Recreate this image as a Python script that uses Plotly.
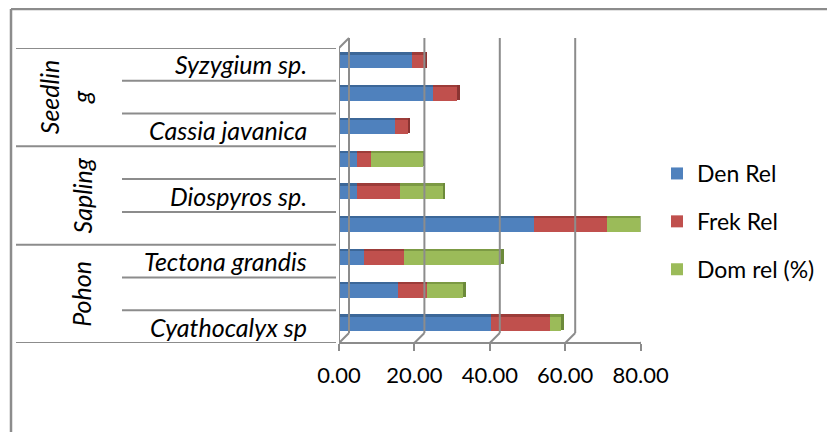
import plotly.graph_objects as go

# ---------------- data ----------------
group_names = ["Pohon", "Sapling", "Seedlin<br>g"]
group_size = 3
species = ["Cyathocalyx sp", "", "Tectona grandis", "", "Diospyros sp.", "",
           "Cassia javanica", "", "Syzygium sp."]
den_rel = [40.2, 15.6, 6.6, 51.7, 4.7, 4.7, 14.9, 24.8, 19.3]
frek_rel = [15.7, 7.8, 10.6, 19.3, 11.5, 3.8, 3.3, 6.5, 3.3]
dom_rel = [3.1, 9.5, 25.8, 8.9, 11.3, 13.7, 0.0, 0.0, 0.0]
series_names = ["Den Rel", "Frek Rel", "Dom rel (%)"]
tick_values = [0, 20, 40, 60, 80]
tick_labels = ["0.00", "20.00", "40.00", "60.00", "80.00"]

# ---------------- styling ----------------
W, H = 835, 432
OX, OY = 8, 8  # page body offset
FONT = "Lato"
colors = ["#4F81BD", "#C0504D", "#9BBB59"]
top_colors = ["#3C6798", "#9C3C39", "#7C9A44"]
side_colors = ["#35598A", "#8A3432", "#6C8A3A"]
LINE = "#8C8C8C"
DEPTH = 10  # px offset of back wall


def X(px):
    return (px - OX) / W


def Y(py):
    return 1 - (py - OY) / H


positions = list(range(len(species)))
series = [den_rel, frek_rel, dom_rel]

fig = go.Figure()
base = [0.0] * len(species)
for k, (name, vals) in enumerate(zip(series_names, series)):
    fig.add_trace(go.Bar(
        orientation="h", y=positions, x=vals, base=list(base),
        width=0.42, offset=-0.12, name=name, legendgroup=name,
        marker=dict(color=colors[k], line=dict(width=0)),
        hoverinfo="x+name", xaxis="x", yaxis="y"))
    fig.add_trace(go.Bar(
        orientation="h", y=positions, x=vals, base=list(base),
        width=0.07, offset=0.30, name=name, legendgroup=name, showlegend=False,
        marker=dict(color=top_colors[k], line=dict(width=0)),
        hoverinfo="skip", xaxis="x", yaxis="y"))
    base = [b + v for b, v in zip(base, vals)]

# right end faces (darker side of the last visible segment)
end_colors = []
for i in positions:
    last = max(k for k in range(3) if series[k][i] > 0)
    end_colors.append(side_colors[last])
fig.add_trace(go.Bar(
    orientation="h", y=positions, x=[0.7] * len(species), base=base,
    width=0.47, offset=-0.10, showlegend=False, hoverinfo="skip",
    marker=dict(color=end_colors, line=dict(width=0)), xaxis="x", yaxis="y"))

# dummy trace to carry the front value axis
fig.add_trace(go.Scatter(x=[None], y=[None], xaxis="x2", yaxis="y",
                         showlegend=False, hoverinfo="skip"))

shapes = []
# back-wall gridlines and floor diagonals
for v in tick_values:
    shapes.append(dict(type="line", xref="x2", xsizemode="pixel", xanchor=v,
                       x0=DEPTH, x1=DEPTH, yref="paper", y0=Y(333), y1=Y(38),
                       line=dict(color=LINE, width=2)))
    shapes.append(dict(type="line", xref="x2", xsizemode="pixel", xanchor=v,
                       x0=0, x1=DEPTH, yref="paper", y0=Y(343), y1=Y(333),
                       line=dict(color=LINE, width=2)))
# left wall front edge + top diagonal
shapes.append(dict(type="line", xref="x2", xsizemode="pixel", xanchor=0,
                   x0=0, x1=0, yref="paper", y0=Y(343), y1=Y(48),
                   line=dict(color=LINE, width=2)))
shapes.append(dict(type="line", xref="x2", xsizemode="pixel", xanchor=0,
                   x0=0, x1=DEPTH, yref="paper", y0=Y(48), y1=Y(38),
                   line=dict(color=LINE, width=2)))
# category table lines
for j in range(len(species) + 1):
    b = j - 0.5
    full = (j % group_size == 0)
    shapes.append(dict(type="line", xref="paper", yref="y",
                       x0=X(16) if full else X(122), x1=X(336), y0=b, y1=b,
                       line=dict(color=LINE, width=2)))
# outer chart border (left & top)
shapes.append(dict(type="line", xref="paper", yref="paper", x0=X(11), x1=X(11),
                   y0=-0.05, y1=Y(9), line=dict(color=LINE, width=2.5)))
shapes.append(dict(type="line", xref="paper", yref="paper", x0=X(11), x1=1.05,
                   y0=Y(9), y1=Y(9), line=dict(color=LINE, width=2.5)))

annotations = []
for i, name in enumerate(species):
    if name:
        annotations.append(dict(text=f"<i>{name}</i>", x=X(309), xref="paper",
                                xanchor="right", y=i, yref="y", yanchor="middle",
                                showarrow=False,
                                font=dict(family=FONT, size=25, color="black")))
for g, gname in enumerate(group_names):
    center = g * group_size + (group_size - 1) / 2
    annotations.append(dict(text=f"<i>{gname}</i>",
                            x=X(65) if "<br>" in gname else X(81), xref="paper",
                            xanchor="center", y=center, yref="y", yanchor="middle",
                            textangle=-90, showarrow=False,
                            font=dict(family=FONT, size=25, color="black")))

fig.update_layout(
    width=W, height=H,
    margin=dict(l=0, r=0, t=0, b=0, pad=0, autoexpand=False),
    paper_bgcolor="white", plot_bgcolor="rgba(0,0,0,0)",
    barmode="overlay", bargap=0,
    font=dict(family=FONT, size=23, color="black"),
    xaxis=dict(domain=[X(339), X(339 + 80 * 3.77)], range=[0, 80],
               visible=False, fixedrange=True, automargin=False),
    xaxis2=dict(domain=[X(336), X(637)], range=[0, 80], anchor="free",
                overlaying="x", position=Y(343), automargin=False,
                tickvals=tick_values, ticktext=tick_labels,
                ticks="outside", ticklen=7, tickwidth=2, tickcolor=LINE,
                showline=True, linecolor=LINE, linewidth=2,
                showgrid=False, zeroline=False, ticklabelstandoff=6,
                tickfont=dict(family=FONT, size=22, color="black")),
    yaxis=dict(domain=[Y(343), Y(48)], range=[-0.5, len(species) - 0.5],
               visible=False, fixedrange=True, automargin=False),
    legend=dict(x=X(657), y=Y(152), xanchor="left", yanchor="top",
                font=dict(family=FONT, size=23, color="black"),
                tracegroupgap=15, bgcolor="rgba(0,0,0,0)"),
    shapes=shapes, annotations=annotations,
)

fig.write_html("out.html")
